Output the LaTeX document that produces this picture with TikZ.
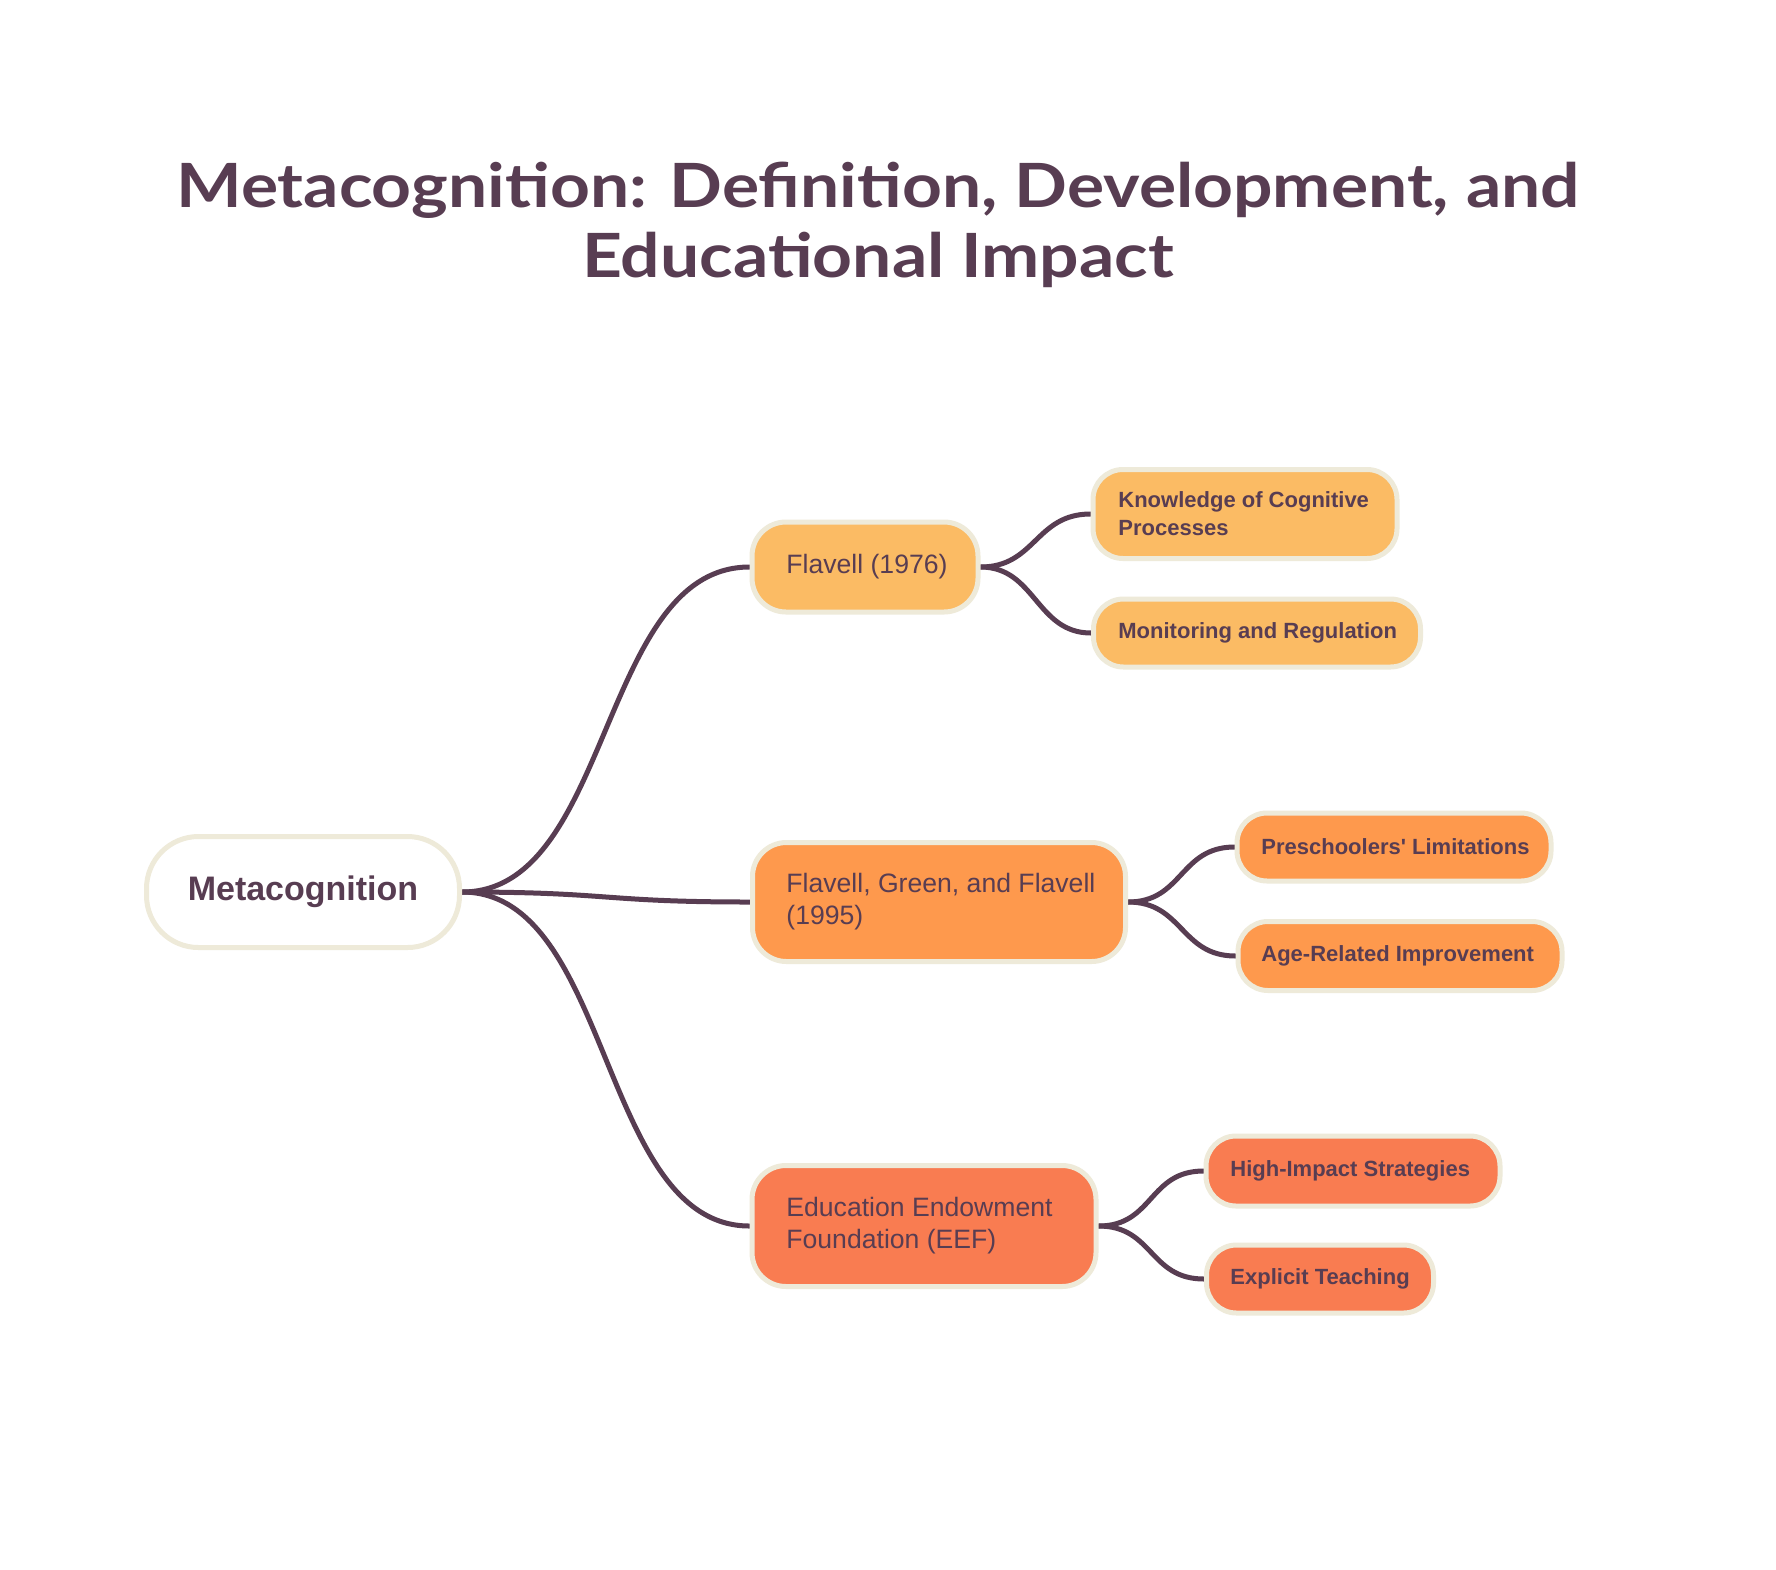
\documentclass[tikz,border=0pt]{standalone}
\usepackage{fontspec}
\newfontfamily\bodyfont{Liberation Sans}
\newfontfamily\titlefont{Lato}[FakeStretch=1.14]
\usetikzlibrary{backgrounds}
\definecolor{txt}{RGB}{88,61,82}
\definecolor{bord}{RGB}{238,234,217}
\definecolor{cA}{RGB}{251,187,100}
\definecolor{cB}{RGB}{254,153,77}
\definecolor{cC}{RGB}{249,124,81}
\begin{document}
\begin{tikzpicture}[x=0.5pt,y=-0.5pt,
  box/.style={draw=bord, line width=2.5pt, fill=#1, rounded corners=17pt, inner sep=0pt},
  leafbox/.style={draw=bord, line width=2.5pt, fill=#1, rounded corners=15pt, inner sep=0pt},
  ctext/.style={anchor=west, inner sep=0pt, align=left, text=txt, font=\bodyfont\fontsize{13.3pt}{16pt}\selectfont},
  ltext/.style={anchor=west, inner sep=0pt, align=left, text=txt, font=\bodyfont\bfseries\fontsize{11pt}{14pt}\selectfont},
  edge/.style={draw=txt, line width=2.5pt, line cap=round}]
\useasboundingbox (0,0) rectangle (1776,1569);

% title
\node[anchor=base, inner sep=0pt, text=txt, font=\titlefont\bfseries\fontsize{30.5pt}{36pt}\selectfont] (t1) at (878,207) {Metacognition: Definition, Development, and};
\node[anchor=base, inner sep=0pt, text=txt, font=\titlefont\bfseries\fontsize{30.5pt}{36pt}\selectfont] (t2) at (878,277) {Educational Impact};

% root
\node[draw=bord, line width=2.5pt, fill=white, rounded corners=26pt, minimum width=156.5pt, minimum height=55.5pt, inner sep=0pt, text=txt, font=\bodyfont\bfseries\fontsize{17pt}{20pt}\selectfont] (root) at (303,892) {Metacognition};

% children
\node[box=cA, minimum width=113pt, minimum height=45pt] (f1) at (865,567) {};
\node[ctext] (f1t) at (786,567) {Flavell (1976)};
\node[box=cB, minimum width=186.5pt, minimum height=59.5pt] (f2) at (939,902) {};
\node[ctext] (f2t) at (786,902) {Flavell, Green, and Flavell\\(1995)};
\node[box=cC, minimum width=172pt, minimum height=60.5pt] (f3) at (924,1226) {};
\node[ctext] (f3t) at (786,1226) {Education Endowment\\Foundation (EEF)};

% leaves
\node[leafbox=cA, minimum width=152pt, minimum height=44.5pt] (k1) at (1245,514) {};
\node[ltext] (k1t) at (1118,514) {Knowledge of Cognitive\\Processes};
\node[leafbox=cA, minimum width=163.5pt, minimum height=34pt] (k2) at (1257,633) {};
\node[ltext] (k2t) at (1118,633) {Monitoring and Regulation};

\node[leafbox=cB, minimum width=157pt, minimum height=34pt] (p1) at (1394,847) {};
\node[ltext] (p1t) at (1261,847) {Preschoolers' Limitations};
\node[leafbox=cB, minimum width=162pt, minimum height=34.5pt] (p2) at (1400,956) {};
\node[ltext] (p2t) at (1261,956) {Age-Related Improvement};

\node[leafbox=cC, minimum width=147pt, minimum height=35pt] (e1) at (1353,1171) {};
\node[ltext] (e1t) at (1230,1171) {High-Impact Strategies};
\node[leafbox=cC, minimum width=113.5pt, minimum height=34pt] (e2) at (1320,1279) {};
\node[ltext] (e2t) at (1230,1279) {Explicit Teaching};

\begin{pgfonlayer}{background}
\fill[white] (0,0) rectangle (1776,1569);
\draw[edge] (root.east) .. controls +(150,0) and +(-150,0) .. (f1.west);
\draw[edge] (root.east) .. controls +(150,0) and +(-150,0) .. (f2.west);
\draw[edge] (root.east) .. controls +(150,0) and +(-150,0) .. (f3.west);
\draw[edge] (f1.east) .. controls +(55,0) and +(-55,0) .. (k1.west);
\draw[edge] (f1.east) .. controls +(55,0) and +(-55,0) .. (k2.west);
\draw[edge] (f2.east) .. controls +(55,0) and +(-55,0) .. (p1.west);
\draw[edge] (f2.east) .. controls +(55,0) and +(-55,0) .. (p2.west);
\draw[edge] (f3.east) .. controls +(55,0) and +(-55,0) .. (e1.west);
\draw[edge] (f3.east) .. controls +(55,0) and +(-55,0) .. (e2.west);
\end{pgfonlayer}
\end{tikzpicture}
\end{document}
